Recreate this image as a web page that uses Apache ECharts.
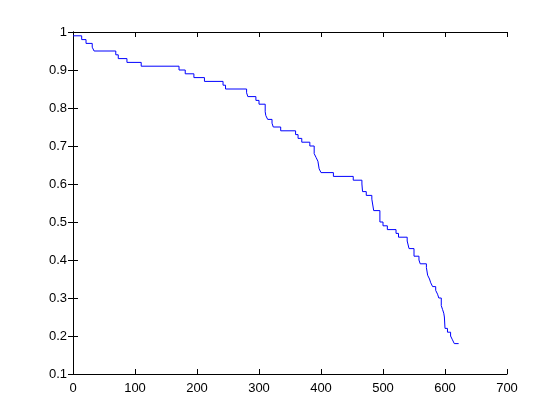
<!DOCTYPE html>
<html>
<head>
<meta charset="utf-8">
<script src="https://cdn.jsdelivr.net/npm/echarts@6/dist/echarts.min.js"></script>
<style>
  html, body { margin: 0; padding: 0; background: #fff; }
  #chart { width: 560px; height: 420px; }
</style>
</head>
<body>
<div id="chart"></div>
<script>
// step times and survival values after each step
var times = [0, 14, 21, 31, 34, 69, 73, 87, 110, 171, 181, 195, 212, 242, 246, 280, 282, 295, 300, 310,
  311, 314, 321, 323, 335, 359, 363, 369, 382, 389, 392, 395, 397, 400, 420, 452, 466, 467, 473, 482,
  485, 495, 500, 507, 521, 525, 539, 542, 550, 558, 560, 570, 572, 575, 577, 580, 585, 588, 590, 594,
  596, 598, 599, 600, 604, 609, 612, 615, 622]
var survival = [0.99, 0.98, 0.97, 0.96, 0.95, 0.94, 0.93, 0.92, 0.91, 0.90, 0.89, 0.88, 0.87, 0.86, 0.85, 0.84, 0.83, 0.82, 0.81, 0.79,
  0.78, 0.77, 0.76, 0.75, 0.74, 0.73, 0.72, 0.71, 0.70, 0.68, 0.67, 0.66, 0.64, 0.63, 0.62, 0.61, 0.60, 0.58, 0.57, 0.56,
  0.53, 0.50, 0.49, 0.48, 0.47, 0.46, 0.45, 0.43, 0.41, 0.40, 0.39, 0.38, 0.36, 0.35, 0.34, 0.33, 0.32, 0.31, 0.30, 0.28,
  0.27, 0.26, 0.25, 0.22, 0.21, 0.20, 0.19, 0.18, 0.18]

var points = []
for (var i = 0; i < times.length; i++) {
  points.push([times[i], survival[i]])
}

var axisStyle = {
  axisLine: { show: true, lineStyle: { color: '#000', width: 1 } },
  axisTick: { show: true, inside: true, length: 5, lineStyle: { color: '#000' } },
  splitLine: { show: false }
}
var labelFont = { color: '#000', fontSize: 13, fontFamily: 'Liberation Sans, Arial, sans-serif' }

var chart = echarts.init(document.getElementById('chart'), null, { renderer: 'canvas' })
chart.setOption({
  animation: false,
  backgroundColor: '#fff',
  grid: { left: 73, right: 53, top: 32, bottom: 46 },
  xAxis: [
    Object.assign({ type: 'value', min: 0, max: 700, interval: 100, position: 'bottom',
      axisLabel: Object.assign({ margin: 8 }, labelFont) }, axisStyle),
    Object.assign({ type: 'value', min: 0, max: 700, interval: 100, position: 'top',
      axisLabel: { show: false } }, axisStyle)
  ],
  yAxis: [
    Object.assign({ type: 'value', min: 0.1, max: 1, interval: 0.1, position: 'left',
      axisLabel: Object.assign({ margin: 6 }, labelFont) }, axisStyle),
    Object.assign({ type: 'value', min: 0.1, max: 1, interval: 0.1, position: 'right',
      axisLabel: { show: false } }, axisStyle)
  ],
  series: [{
    type: 'line',
    step: 'end',
    data: points,
    showSymbol: false,
    lineStyle: { color: '#0000ff', width: 1 },
    silent: true
  }]
})
</script>
</body>
</html>
